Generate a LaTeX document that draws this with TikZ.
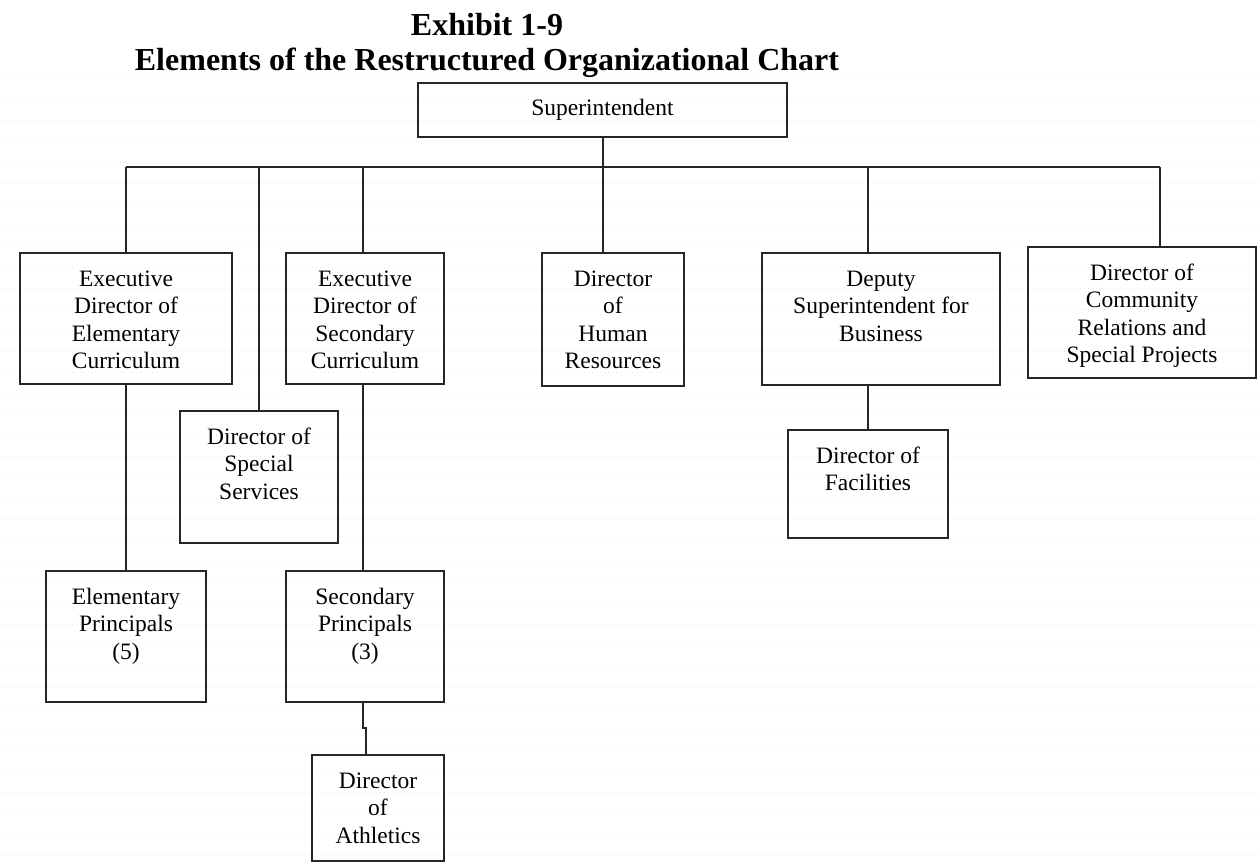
\documentclass[tikz,border=0pt]{standalone}
\usepackage{fontspec}
\setmainfont{Liberation Serif}
% top-aligned, centred text block of fixed width and height
\newcommand\orgtext[3]{\parbox[c][#2][t]{#1}{\centering\rule{0pt}{33pt}#3}}
\definecolor{gridtint}{RGB}{236,230,244}
\begin{document}
\begin{tikzpicture}[x=1pt,y=-1pt,
  orgline/.style={line width=2pt, draw=black!85},
  orgbox/.style={draw=black!85, line width=2pt, inner sep=0pt, outer sep=0pt,
    align=center, font=\fontsize{23.5}{27.6}\selectfont},
  heading/.style={font=\fontsize{32}{35}\selectfont\bfseries, anchor=base, inner sep=0pt},
  paperdots/.style={draw=gridtint, line width=1pt, dash pattern=on 1pt off 3pt}]
\useasboundingbox[fill=white] (0,0) rectangle (1259,863);

% faint dotted ruling of the page
\foreach \r in {0,...,37} {
  \draw[paperdots] (0,{78+21*\r}) -- (1259,{78+21*\r});
}

% title
\node[heading] (t1) at (487,35) {Exhibit 1-9};
\node[heading] (t2) at (487,70) {Elements of the Restructured Organizational Chart};

% boxes
\node[orgbox, minimum width=369pt, minimum height=54pt] (sup) at (602.5,110) {Superintendent};
\node[orgbox] (ee)  at (126,318.5)  {\orgtext{212pt}{131pt}{Executive\\Director of\\Elementary\\Curriculum}};
\node[orgbox] (es)  at (365,318.5)  {\orgtext{158pt}{131pt}{Executive\\Director of\\Secondary\\Curriculum}};
\node[orgbox] (hr)  at (613,319.5)  {\orgtext{142pt}{133pt}{Director\\of\\Human\\Resources}};
\node[orgbox] (dep) at (881,319)    {\orgtext{238pt}{132pt}{Deputy\\Superintendent for\\Business}};
\node[orgbox] (com) at (1142,312.5) {\orgtext{228pt}{131pt}{Director of\\Community\\Relations and\\Special Projects}};
\node[orgbox] (ss)  at (259,477)    {\orgtext{158pt}{132pt}{Director of\\Special\\Services}};
\node[orgbox] (fac) at (868,484)    {\orgtext{160pt}{108pt}{Director of\\Facilities}};
\node[orgbox] (ep)  at (126,636.5)  {\orgtext{160pt}{131pt}{Elementary\\Principals\\(5)}};
\node[orgbox] (sp)  at (365,636.5)  {\orgtext{158pt}{131pt}{Secondary\\Principals\\(3)}};
\node[orgbox] (ath) at (378,808)    {\orgtext{132pt}{106pt}{Director\\of\\Athletics}};

% connectors
\coordinate (busL) at (126,167);
\coordinate (busR) at (1160,167);
\coordinate (esx)  at (363,167);
\coordinate (depx) at (868,167);
\coordinate (jog)  at (363,728);

\draw[orgline] (busL) -- (busR);
\draw[orgline] (sup.south) -- (sup.south |- hr.north);
\draw[orgline] (busL) -- (ee.north);
\draw[orgline] (ss.north |- busL) -- (ss.north);
\draw[orgline] (esx) -- (esx |- es.north);
\draw[orgline] (depx) -- (depx |- dep.north);
\draw[orgline] (busR) -- (busR |- com.north);
\draw[orgline] (ee.south) -- (ep.north);
\draw[orgline] (es.south -| esx) -- (sp.north -| esx);
\draw[orgline] (dep.south -| fac.north) -- (fac.north);
\draw[orgline] (sp.south -| jog) -- (jog) -- ++(3,0) coordinate (jog2) -- (jog2 |- ath.north);
\end{tikzpicture}
\end{document}
